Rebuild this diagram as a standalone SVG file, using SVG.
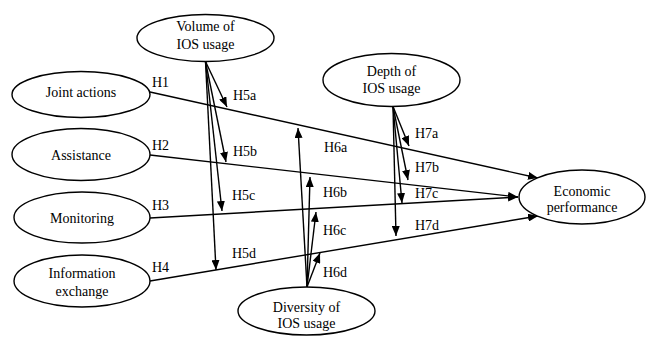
<svg xmlns="http://www.w3.org/2000/svg" width="652" height="337" viewBox="0 0 652 337">
<style>
.n{fill:#fff;stroke:#000;stroke-width:1.4}
.t{font-family:'Liberation Serif','Tinos','Nimbus Roman','DejaVu Serif',serif;font-size:14px;fill:#000;text-anchor:middle}
.l{font-family:'Liberation Serif','Tinos','Nimbus Roman','DejaVu Serif',serif;font-size:14px;fill:#000}
.c{stroke:#000;stroke-width:1.4;fill:none;marker-end:url(#ah)}
</style>
<defs>
<marker id="ah" viewBox="0 0 10 8" refX="10" refY="4" markerWidth="10" markerHeight="8" markerUnits="userSpaceOnUse" orient="auto">
<path d="M0,0 L10,4 L0,8 Z" fill="#000"/>
</marker>
</defs>
<g id="connectors">
<line class="c" x1="150" y1="92" x2="538" y2="178"/>
<line class="c" x1="150" y1="155" x2="518" y2="197"/>
<line class="c" x1="150" y1="218" x2="518" y2="197"/>
<line class="c" x1="150" y1="281" x2="538" y2="216"/>
<line class="c" x1="205.5" y1="61.5" x2="227" y2="107"/>
<line class="c" x1="205.5" y1="61.5" x2="226" y2="162"/>
<line class="c" x1="205.5" y1="61.5" x2="222" y2="211"/>
<line class="c" x1="205.5" y1="61.5" x2="216" y2="270"/>
<line class="c" x1="307" y1="287" x2="298" y2="128"/>
<line class="c" x1="307" y1="287" x2="310" y2="177"/>
<line class="c" x1="307" y1="287" x2="316" y2="212"/>
<line class="c" x1="307" y1="287" x2="320" y2="253"/>
<line class="c" x1="393" y1="106.5" x2="409" y2="146"/>
<line class="c" x1="393" y1="106.5" x2="408" y2="180"/>
<line class="c" x1="393" y1="106.5" x2="402" y2="203"/>
<line class="c" x1="393" y1="106.5" x2="396" y2="236"/>
</g>
<g id="labels" font-family="Liberation Serif, serif">
<text class="l" x="152" y="87">H1</text>
<text class="l" x="152" y="150">H2</text>
<text class="l" x="152" y="210">H3</text>
<text class="l" x="152" y="272">H4</text>
<text class="l" x="233" y="100">H5a</text>
<text class="l" x="233" y="156">H5b</text>
<text class="l" x="232" y="200">H5c</text>
<text class="l" x="232" y="258">H5d</text>
<text class="l" x="324" y="152">H6a</text>
<text class="l" x="323" y="197">H6b</text>
<text class="l" x="323" y="235">H6c</text>
<text class="l" x="323" y="277">H6d</text>
<text class="l" x="415" y="138">H7a</text>
<text class="l" x="415" y="172">H7b</text>
<text class="l" x="415" y="198">H7c</text>
<text class="l" x="415" y="230">H7d</text>
</g>
<g id="volume">
<ellipse class="n" cx="205.5" cy="38" rx="68.5" ry="23.5"/>
<text class="t" x="205.5" y="31">Volume of</text>
<text class="t" x="205.5" y="49">IOS usage</text>
</g>
<g id="depth">
<ellipse class="n" cx="391.5" cy="80" rx="68.5" ry="26.5"/>
<text class="t" x="391.5" y="76">Depth of</text>
<text class="t" x="391.5" y="93">IOS usage</text>
</g>
<g id="joint">
<ellipse class="n" cx="81" cy="94.5" rx="69" ry="23"/>
<text class="t" x="81" y="97">Joint actions</text>
</g>
<g id="assistance">
<ellipse class="n" cx="81" cy="154.5" rx="69" ry="26"/>
<text class="t" x="81" y="160">Assistance</text>
</g>
<g id="monitoring">
<ellipse class="n" cx="82" cy="217.5" rx="68" ry="25.5"/>
<text class="t" x="82" y="223">Monitoring</text>
</g>
<g id="information">
<ellipse class="n" cx="82" cy="281" rx="68" ry="26"/>
<text class="t" x="82" y="278">Information</text>
<text class="t" x="82" y="296">exchange</text>
</g>
<g id="diversity">
<ellipse class="n" cx="306.5" cy="311" rx="68.5" ry="24"/>
<text class="t" x="306.5" y="312">Diversity of</text>
<text class="t" x="306.5" y="328">IOS usage</text>
</g>
<g id="economic">
<ellipse class="n" cx="582" cy="197" rx="63" ry="27"/>
<text class="t" x="582" y="196">Economic</text>
<text class="t" x="582" y="212">performance</text>
</g>
</svg>
